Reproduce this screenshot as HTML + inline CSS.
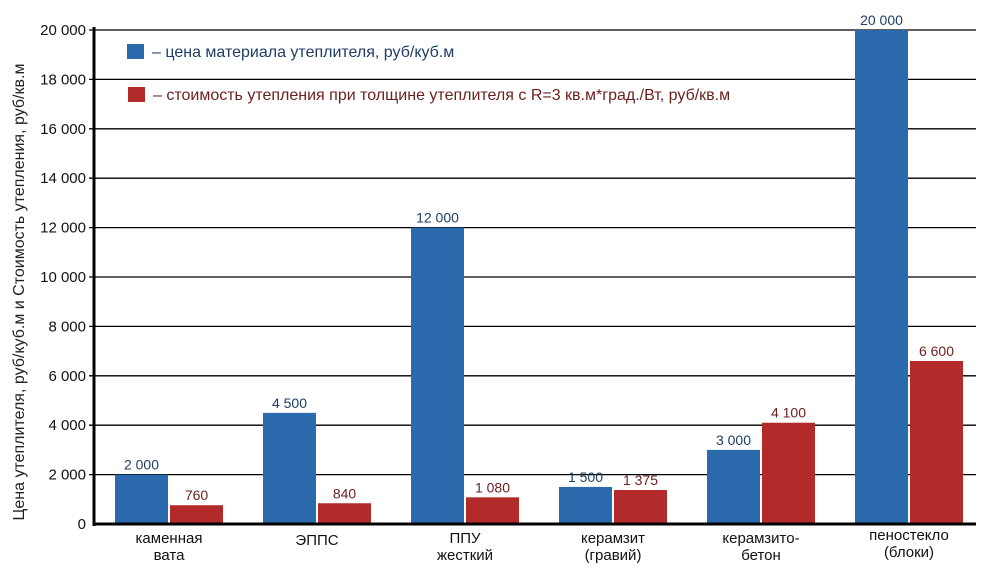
<!DOCTYPE html>
<html><head><meta charset="utf-8"><style>
body{margin:0;background:#fff;}
svg{display:block;font-family:"Liberation Sans","DejaVu Sans",sans-serif;}
</style></head><body>
<svg id="chart" width="989" height="577" viewBox="0 0 989 577"></svg>
<script>
const categories=[["каменная","вата"],["ЭППС"],["ППУ","жесткий"],["керамзит","(гравий)"],["керамзито-","бетон"],["пеностекло","(блоки)"]];
const priceValues=[2000,4500,12000,1500,3000,20000];
const costValues=[760,840,1080,1375,4100,6600];
const tickValues=[0,2000,4000,6000,8000,10000,12000,14000,16000,18000,20000];
const fmt=v=>v>=1000?Math.floor(v/1000)+" "+String(v%1000).padStart(3,"0"):String(v);
const svg=document.getElementById('chart');
const NS="http://www.w3.org/2000/svg";
const x0=95,x1=976,yTop=30,yBot=524,maxV=20000;
const y=v=>yBot-(v/maxV)*(yBot-yTop);
const groupX=i=>115+i*148;
const bw=53,gap=2;
function mk(t,a,txt){const e=document.createElementNS(NS,t);for(const k in a)e.setAttribute(k,a[k]);if(txt!=null)e.textContent=txt;svg.appendChild(e);return e;}
tickValues.forEach(v=>{
 if(v>0){const g=mk('line',{x1:x0-6,x2:x1,y1:y(v),y2:y(v),stroke:'#000','stroke-width':1.3});
 
 }
 const t=mk('text',{x:86,y:y(v)+5,'text-anchor':'end','font-size':15,fill:'#111'},fmt(v));
 
 
});
categories.forEach((c,i)=>{
 const gx=groupX(i);
 const b=mk('rect',{x:gx,y:y(priceValues[i]),width:bw,height:yBot-y(priceValues[i]),fill:'#2b6aad'});
 
 
 const r=mk('rect',{x:gx+bw+gap,y:y(costValues[i]),width:bw,height:yBot-y(costValues[i]),fill:'#b22a2a'});
 
 
 const lb=mk('text',{x:gx+bw/2,y:y(priceValues[i])-5,'text-anchor':'middle','font-size':14,fill:'#1f3d66'},fmt(priceValues[i]));
 
 
 const lr=mk('text',{x:gx+bw*1.5+gap,y:y(costValues[i])-5,'text-anchor':'middle','font-size':14,fill:'#6b1f1f'},fmt(costValues[i]));
 
 
 c.forEach((line,j)=>{
  const ty=(c.length===1?545:(i===5?540:543))+j*17;
  const t=mk('text',{x:gx+bw+gap/2,y:ty,'text-anchor':'middle','font-size':15,fill:'#111'},line);
  
  
 });
});
const ax=mk('line',{x1:x0-1,x2:x0-1,y1:yTop-3,y2:yBot+2,stroke:'#000','stroke-width':3});


const bx=mk('line',{x1:x0-2,x2:x1,y1:yBot,y2:yBot,stroke:'#000','stroke-width':3});


const yt=mk('text',{x:0,y:0,transform:'translate(24,292) rotate(-90)','text-anchor':'middle','font-size':16,fill:'#222'},'Цена утеплителя, руб/куб.м  и  Стоимость утепления, руб/кв.м');


const l1=mk('rect',{x:127,y:44,width:17,height:15,fill:'#2b6aad'});


const l1t=mk('text',{x:152,y:57,'font-size':16,fill:'#1f3d66','xml:space':'preserve'},'–  цена  материала  утеплителя,   руб/куб.м');


const l2=mk('rect',{x:128,y:87,width:17,height:15,fill:'#b22a2a'});


const l2t=mk('text',{x:153,y:100,'font-size':16,fill:'#6b1f1f','xml:space':'preserve'},'–  стоимость утепления при толщине утеплителя с R=3 кв.м*град./Вт,  руб/кв.м');


</script>
</body></html>
